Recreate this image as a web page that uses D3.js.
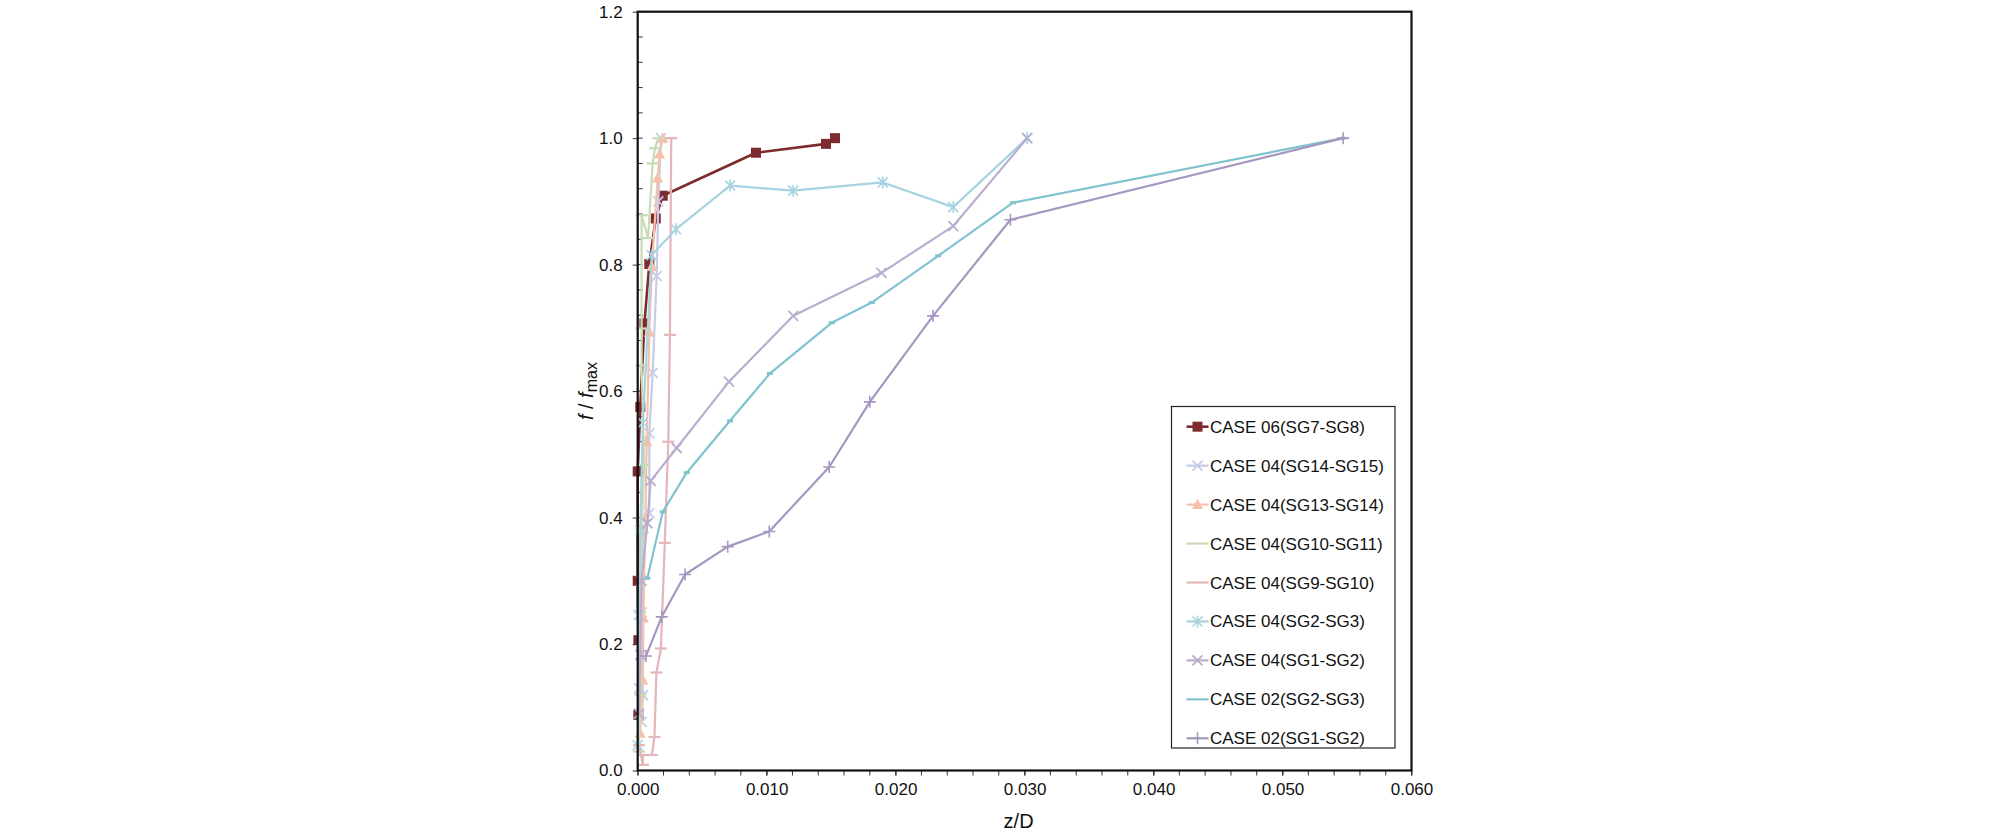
<!DOCTYPE html>
<html>
<head>
<meta charset="utf-8" />
<style>
  body { margin: 0; background: #fff; }
  text { font-family: "Liberation Sans", Arial, sans-serif; fill: #111; }
</style>
</head>
<body>
<div id="chart"></div>
<script src="https://d3js.org/d3.v7.min.js"></script>
<script>
// series, in legend order
var seriesNames = [
  "CASE 06(SG7-SG8)", "CASE 04(SG14-SG15)", "CASE 04(SG13-SG14)",
  "CASE 04(SG10-SG11)", "CASE 04(SG9-SG10)", "CASE 04(SG2-SG3)",
  "CASE 04(SG1-SG2)", "CASE 02(SG2-SG3)", "CASE 02(SG1-SG2)"
];
var seriesColors = ["#7d2b2e", "#c6cce8", "#f6c1aa", "#c8dbb3", "#e4b6b9", "#a6d3df", "#b9aecf", "#7fc3cf", "#a597c0"];
var seriesMarkers = ["square", "x", "triangle", "dash", "dash", "asterisk", "x", "tick", "plus"];

var c06_78_x = [0.00005, 0.00005, 0.0, 0.0, 0.0002, 0.00052, 0.0009, 0.0014, 0.00194, 0.00917, 0.0146, 0.0153];
var c06_78_y = [0.088, 0.206, 0.30, 0.473, 0.575, 0.707, 0.801, 0.873, 0.909, 0.977, 0.991, 1.0];

var c04_1415_x = [0.0003, 0.0004, 0.0003, 0.00044, 0.0009, 0.0009, 0.00116, 0.00147, 0.0016, 0.0018];
var c04_1415_y = [0.077, 0.119, 0.25, 0.383, 0.407, 0.533, 0.629, 0.782, 0.90, 1.0];

var c04_1314_x = [0.0002, 0.0004, 0.00044, 0.0006, 0.0007, 0.0009, 0.0011, 0.00155, 0.0017, 0.00194];
var c04_1314_y = [0.059, 0.143, 0.241, 0.40, 0.52, 0.693, 0.797, 0.937, 0.975, 1.0];

var c04_1011_x = [0.0001, 0.0002, 0.0002, 0.0003, 0.0005, 0.0003, 0.0003, 0.0003, 0.0008, 0.00116, 0.00134, 0.0016];
var c04_1011_y = [0.03, 0.12, 0.25, 0.38, 0.483, 0.641, 0.699, 0.878, 0.842, 0.96, 0.984, 1.0];

var c04_910_x = [0.0001, 0.0004, 0.0004, 0.0011, 0.0013, 0.00145, 0.0018, 0.0021, 0.00237, 0.0025, 0.0026];
var c04_910_y = [0.04, 0.009, 0.0245, 0.0245, 0.053, 0.155, 0.193, 0.36, 0.52, 0.689, 1.0];

var c04_23_x = [0.0, 0.0001, 0.0001, 0.0002, 0.0004, 0.00108, 0.00297, 0.00716, 0.01206, 0.0190, 0.02447, 0.0302];
var c04_23_y = [0.04, 0.13, 0.246, 0.38, 0.55, 0.815, 0.856, 0.925, 0.917, 0.930, 0.891, 1.0];

var c04_12_x = [0.0001, 0.0002, 0.0003, 0.00075, 0.00101, 0.00302, 0.00708, 0.01206, 0.0189, 0.02447, 0.0302];
var c04_12_y = [0.09, 0.183, 0.30, 0.391, 0.458, 0.510, 0.615, 0.719, 0.787, 0.861, 1.0];

var c02_23_x = [0.00075, 0.00194, 0.0038, 0.00716, 0.01026, 0.01504, 0.01814, 0.0233, 0.0291, 0.0547];
var c02_23_y = [0.304, 0.409, 0.471, 0.553, 0.628, 0.708, 0.740, 0.814, 0.898, 1.0];

var c02_12_x = [0.00064, 0.00186, 0.00367, 0.00698, 0.0102, 0.01485, 0.0180, 0.0229, 0.0289, 0.0547];
var c02_12_y = [0.181, 0.243, 0.310, 0.354, 0.378, 0.480, 0.583, 0.719, 0.871, 1.0];

var xTickValues = [0, 0.01, 0.02, 0.03, 0.04, 0.05, 0.06];
var yTickValues = [0, 0.2, 0.4, 0.6, 0.8, 1.0, 1.2];

var seriesX = [c06_78_x, c04_1415_x, c04_1314_x, c04_1011_x, c04_910_x, c04_23_x, c04_12_x, c02_23_x, c02_12_x];
var seriesY = [c06_78_y, c04_1415_y, c04_1314_y, c04_1011_y, c04_910_y, c04_23_y, c04_12_y, c02_23_y, c02_12_y];

var width = 2008, height = 835;
var plotLeft = 637.7, plotRight = 1411.5, plotTop = 11.7, plotBottom = 770.5;

var svg = d3.select("#chart").append("svg")
  .attr("width", width).attr("height", height);

var x = d3.scaleLinear().domain([0, 0.06]).range([plotLeft, plotRight]);
var y = d3.scaleLinear().domain([0, 1.2]).range([plotBottom, plotTop]);

// minor ticks
var xMinor = d3.range(0, 0.0601, 0.002);
svg.append("g").selectAll("line").data(xMinor).enter().append("line")
  .attr("x1", function(d) { return x(d); }).attr("x2", function(d) { return x(d); })
  .attr("y1", plotBottom).attr("y2", plotBottom + 5)
  .attr("stroke", "#333").attr("stroke-width", 1);
var yMinor = d3.range(0, 1.2001, 0.04);
svg.append("g").selectAll("line").data(yMinor).enter().append("line")
  .attr("x1", plotLeft).attr("x2", plotLeft + 5)
  .attr("y1", function(d) { return y(d); }).attr("y2", function(d) { return y(d); })
  .attr("stroke", "#333").attr("stroke-width", 1);

// axes
var xAxis = svg.append("g").attr("transform", "translate(0," + plotBottom + ")")
  .call(d3.axisBottom(x).tickValues(xTickValues).tickFormat(d3.format(".3f")).tickSize(5).tickPadding(7));
var yAxis = svg.append("g").attr("transform", "translate(" + plotLeft + ",0)")
  .call(d3.axisLeft(y).tickValues(yTickValues).tickFormat(d3.format(".1f")).tickSize(5).tickPadding(10));
[xAxis, yAxis].forEach(function(a) {
  a.select(".domain").remove();
  a.selectAll("line").attr("stroke", "#333");
  a.selectAll("text").style("font-size", "17px")
    .style("font-family", "'Liberation Sans', Arial, sans-serif").attr("fill", "#111");
});

// markers
function drawMarker(g, type, cx, cy, color) {
  var s = 5;
  if (type === "square") {
    g.append("rect").attr("x", cx - 5).attr("y", cy - 5).attr("width", 10).attr("height", 10).attr("fill", color);
  } else if (type === "triangle") {
    g.append("path").attr("d", "M" + cx + "," + (cy - 6) + "L" + (cx + 5.5) + "," + (cy + 4.5) + "L" + (cx - 5.5) + "," + (cy + 4.5) + "Z")
      .attr("fill", color);
  } else if (type === "x") {
    g.append("path").attr("d", "M" + (cx - s) + "," + (cy - s) + "L" + (cx + s) + "," + (cy + s) + "M" + (cx - s) + "," + (cy + s) + "L" + (cx + s) + "," + (cy - s))
      .attr("stroke", color).attr("stroke-width", 1.8);
  } else if (type === "asterisk") {
    g.append("path").attr("d", "M" + (cx - s) + "," + (cy - s) + "L" + (cx + s) + "," + (cy + s) + "M" + (cx - s) + "," + (cy + s) + "L" + (cx + s) + "," + (cy - s) + "M" + cx + "," + (cy - 6) + "L" + cx + "," + (cy + 6))
      .attr("stroke", color).attr("stroke-width", 1.6);
  } else if (type === "plus") {
    g.append("path").attr("d", "M" + (cx - 6) + "," + cy + "L" + (cx + 6) + "," + cy + "M" + cx + "," + (cy - 6) + "L" + cx + "," + (cy + 6))
      .attr("stroke", color).attr("stroke-width", 1.6);
  } else if (type === "dash") {
    g.append("path").attr("d", "M" + (cx - 6) + "," + cy + "L" + (cx + 6) + "," + cy)
      .attr("stroke", color).attr("stroke-width", 2.2);
  } else if (type === "tick") {
    g.append("path").attr("d", "M" + (cx - 3) + "," + cy + "L" + (cx + 3) + "," + cy)
      .attr("stroke", color).attr("stroke-width", 3);
  }
}

var line = d3.line().x(function(d) { return x(d[0]); }).y(function(d) { return y(d[1]); });

// drawn in legend order, later series on top
for (var i = 0; i < seriesNames.length; i++) {
  var pts = d3.zip(seriesX[i], seriesY[i]);
  var g = svg.append("g");
  g.append("path").datum(pts).attr("d", line)
    .attr("fill", "none").attr("stroke", seriesColors[i])
    .attr("stroke-width", i === 0 ? 2.6 : 2.2).attr("stroke-linejoin", "round");
  pts.forEach(function(p) { drawMarker(g, seriesMarkers[i], x(p[0]), y(p[1]), seriesColors[i]); });
}

// plot frame
svg.append("rect")
  .attr("x", plotLeft).attr("y", plotTop)
  .attr("width", plotRight - plotLeft).attr("height", plotBottom - plotTop)
  .attr("fill", "none").attr("stroke", "#111").attr("stroke-width", 2.2);

// axis titles
svg.append("text").attr("x", (plotLeft + plotRight) / 2 - 6).attr("y", 828)
  .attr("text-anchor", "middle").style("font-size", "20px").text("z/D");

var yt = svg.append("text").attr("transform", "translate(593," + (plotTop + plotBottom) / 2 + ") rotate(-90)")
  .attr("text-anchor", "middle").style("font-size", "20px");
yt.append("tspan").style("font-style", "italic").text("f");
yt.append("tspan").text(" / ");
yt.append("tspan").style("font-style", "italic").text("f");
yt.append("tspan").attr("dy", 4).style("font-size", "16px").text("max");

// legend
var lg = svg.append("g");
lg.append("rect").attr("x", 1171.5).attr("y", 406.5).attr("width", 223.5).attr("height", 341.5)
  .attr("fill", "#fff").attr("stroke", "#222").attr("stroke-width", 1.2);
seriesNames.forEach(function(name, i) {
  var ly = 426.7 + i * 38.95;
  lg.append("line").attr("x1", 1186.5).attr("x2", 1208.5).attr("y1", ly).attr("y2", ly)
    .attr("stroke", seriesColors[i]).attr("stroke-width", i === 0 ? 2.6 : 2.2);
  var m = seriesMarkers[i] === "dash" || seriesMarkers[i] === "tick" ? "none" : seriesMarkers[i];
  drawMarker(lg, m, 1197.5, ly, seriesColors[i]);
  lg.append("text").attr("x", 1210).attr("y", ly + 6).style("font-size", "17px").text(name);
});
</script>
</body>
</html>
